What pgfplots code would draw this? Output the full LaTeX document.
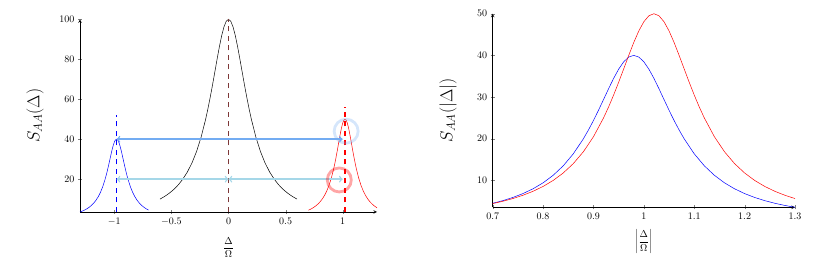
\documentclass[border=0pt]{standalone}
\usepackage{pgfplots}
\pgfplotsset{compat=1.18}
\usepackage{pgfplotstable}
\definecolor{arrA}{RGB}{115,172,242}
\definecolor{arrB}{RGB}{165,215,232}
\definecolor{brn}{RGB}{125,55,55}

\pgfplotstableread{
x y
-1.30 3.559
-1.28 4.0
-1.26 4.525
-1.24 5.155
-1.22 5.917
-1.20 6.849
-1.18 8.0
-1.16 9.434
-1.14 11.236
-1.12 13.514
-1.10 16.393
-1.08 20
-1.07 22.099
-1.06 24.390
-1.05 26.846
-1.04 29.412
-1.03 32
-1.02 34.483
-1.01 36.697
-1.00 38.462
-0.99 39.604
-0.98 40
-0.97 39.604
-0.96 38.462
-0.95 36.697
-0.94 34.483
-0.93 32
-0.92 29.412
-0.91 26.846
-0.90 24.390
-0.89 22.099
-0.88 20
-0.86 16.393
-0.84 13.514
-0.82 11.236
-0.80 9.434
-0.78 8.0
-0.76 6.849
-0.74 5.917
-0.72 5.155
-0.70 4.525
}\bluel

\pgfplotstableread{
x y
0.70 4.448
0.72 5.0
0.74 5.656
0.76 6.443
0.78 7.396
0.80 8.562
0.82 10
0.84 11.792
0.86 14.045
0.88 16.892
0.90 20.492
0.92 25
0.93 27.624
0.94 30.488
0.95 33.557
0.96 36.765
0.97 40
0.98 43.103
0.99 45.872
1.00 48.077
1.01 49.505
1.02 50
1.03 49.505
1.04 48.077
1.05 45.872
1.06 43.103
1.07 40
1.08 36.765
1.09 33.557
1.10 30.488
1.11 27.624
1.12 25
1.14 20.492
1.16 16.892
1.18 14.045
1.20 11.792
1.22 10
1.24 8.562
1.26 7.396
1.28 6.443
1.30 5.656
}\redc

\pgfplotstableread{
x y
-0.60 10
-0.56 11.312
-0.52 12.887
-0.48 14.793
-0.44 17.123
-0.40 20
-0.36 23.585
-0.32 28.090
-0.28 33.784
-0.24 40.984
-0.20 50
-0.18 55.249
-0.16 60.976
-0.14 67.114
-0.12 73.529
-0.10 80
-0.08 86.207
-0.06 91.743
-0.04 96.154
-0.02 99.010
0.00 100
0.02 99.010
0.04 96.154
0.06 91.743
0.08 86.207
0.10 80
0.12 73.529
0.14 67.114
0.16 60.976
0.18 55.249
0.20 50
0.24 40.984
0.28 33.784
0.32 28.090
0.36 23.585
0.40 20
0.44 17.123
0.48 14.793
0.52 12.887
0.56 11.312
0.60 10
}\blackc

\pgfplotstableread{
x y
0.70 4.525
0.72 5.155
0.74 5.917
0.76 6.849
0.78 8.0
0.80 9.434
0.82 11.236
0.84 13.514
0.86 16.393
0.88 20
0.89 22.099
0.90 24.390
0.91 26.846
0.92 29.412
0.93 32
0.94 34.483
0.95 36.697
0.96 38.462
0.97 39.604
0.98 40
0.99 39.604
1.00 38.462
1.01 36.697
1.02 34.483
1.03 32
1.04 29.412
1.05 26.846
1.06 24.390
1.07 22.099
1.08 20
1.10 16.393
1.12 13.514
1.14 11.236
1.16 9.434
1.18 8.0
1.20 6.849
1.22 5.917
1.24 5.155
1.26 4.525
1.28 4.0
1.30 3.559
}\bluer

\begin{document}
\begin{tikzpicture}
\path[use as bounding box] (0,0) rectangle (828pt,262pt);
\begin{axis}[
  at={(80pt,50pt)}, anchor=south west,
  scale only axis, width=297pt, height=192.7pt,
  axis lines=left, clip=false,
  axis line style={line width=0.6pt},
  xmin=-1.3, xmax=1.3, ymin=3.559, ymax=100,
  xtick={-1,-0.5,0,0.5,1}, ytick={20,40,60,80,100},
  xlabel={$\displaystyle\frac{\Delta}{\Omega}$},
  ylabel={\LARGE $S_{AA}(\Delta)$},
  xlabel style={at={(axis description cs:0.5,-0.184)}, anchor=center},
  ylabel style={at={(axis description cs:-0.1515,0.5)}, anchor=center},
]
\addplot[color=blue, line width=0.5pt, no marks] table {\bluel};
\addplot[color=red, line width=0.5pt, no marks] table {\redc};
\addplot[color=black, line width=0.5pt, no marks] table {\blackc};
\addplot[color=blue, line width=1.5pt, dash pattern=on 5pt off 4.5pt, no marks] coordinates {(-0.98,3.559) (-0.98,52)};
\addplot[color=red, line width=1.5pt, dash pattern=on 5pt off 4.5pt, no marks] coordinates {(1.02,3.559) (1.02,56)};
\addplot[color=brn, line width=1.5pt, dash pattern=on 5pt off 4.5pt, no marks] coordinates {(0,3.559) (0,100)};
\addplot[color=arrA, line width=1.4pt, <->, no marks] coordinates {(-0.98,40) (1.0,40)};
\addplot[color=arrB, line width=1.4pt, <->, no marks] coordinates {(-0.98,20) (0,20)};
\addplot[color=arrB, line width=1.4pt, <->, no marks] coordinates {(0,20) (1.0,20)};
\addplot[only marks, mark=o, mark size=12pt, mark options={line width=2.8pt, draw=arrA, draw opacity=0.3}] coordinates {(1.03,44)};
\addplot[only marks, mark=o, mark size=12pt, mark options={line width=2.8pt, draw=red, draw opacity=0.35}] coordinates {(0.97,19.6)};
\end{axis}
\begin{axis}[
  at={(492.7pt,54.7pt)}, anchor=south west,
  scale only axis, width=302.3pt, height=193.6pt,
  axis lines=left,
  axis line style={line width=0.6pt},
  xmin=0.7, xmax=1.3, ymin=3.559, ymax=50,
  xtick={0.7,0.8,...,1.3}, ytick={10,20,30,40,50},
  xticklabel style={/pgf/number format/fixed, /pgf/number format/precision=1},
  xlabel={$\displaystyle\left|\frac{\Delta}{\Omega}\right|$},
  ylabel={\LARGE $S_{AA}(|\Delta|)$},
  xlabel style={at={(axis description cs:0.5,-0.179)}, anchor=center},
  ylabel style={at={(axis description cs:-0.148,0.5)}, anchor=center},
]
\addplot[color=blue, line width=0.5pt, no marks] table {\bluer};
\addplot[color=red, line width=0.5pt, no marks] table {\redc};
\end{axis}
\end{tikzpicture}
\end{document}
